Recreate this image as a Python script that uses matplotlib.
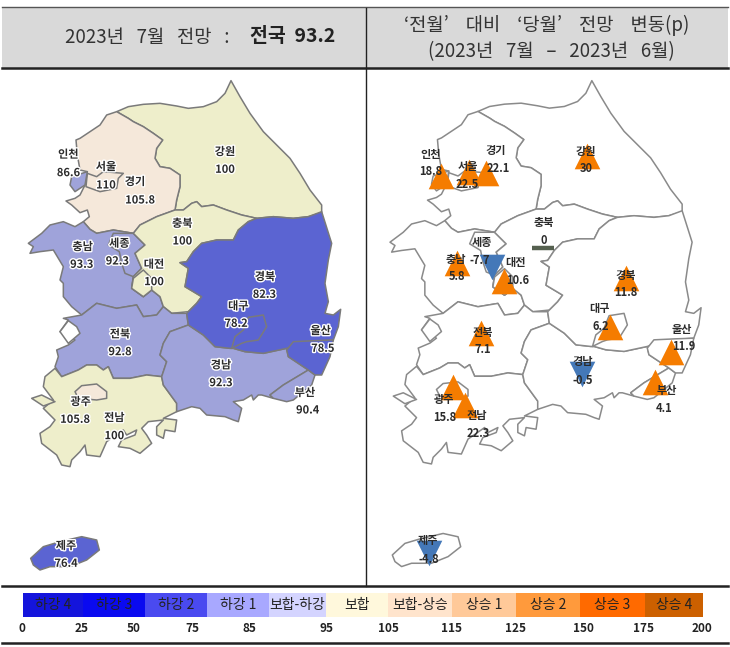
import matplotlib
matplotlib.use('Agg')
import matplotlib.pyplot as plt
import matplotlib.patheffects as pe
from matplotlib.patches import Polygon, Rectangle

plt.rcParams['font.family'] = ['Noto Sans CJK KR', 'DejaVu Sans']

# region outlines (map units = 3 x pixel)
gangwon = [(350,125),(385,110),(430,103),(480,100),(530,108),(565,115),(610,110),(650,95),(675,70),(693,32),(720,80),(750,130),(790,185),(830,225),(870,265),(900,310),(930,360),(965,405),(965,428),(925,440),(880,445),(820,440),(770,445),(725,435),(680,420),(640,405),(605,410),(590,395),(575,400),(550,420),(525,420),(530,390),(540,350),(540,315),(510,295),(480,290),(465,265),(470,235),(488,210),(460,190),(430,170),(400,155),(385,145)]
gyeonggi = [(350,125),(385,145),(400,155),(430,170),(460,190),(488,210),(470,235),(465,265),(480,290),(510,295),(540,315),(540,350),(530,390),(525,420),(470,440),(420,465),(400,490),(340,480),(290,490),(270,478),(250,455),(268,440),(262,420),(240,428),(215,405),(198,393),(225,385),(240,375),(255,345),(262,305),(240,300),(232,255),(228,210),(240,205),(300,165),(320,135)]
seoul = [(262,310),(290,320),(310,305),(370,310),(355,325),(350,355),(300,365),(258,350)]
incheon = [(215,320),(262,305),(255,345),(225,365),(210,345)]
chungbuk = [(525,420),(550,420),(575,400),(590,395),(605,410),(640,405),(680,420),(725,435),(770,445),(745,455),(715,480),(700,510),(650,510),(605,520),(580,545),(560,575),(540,578),(565,595),(555,650),(605,680),(590,700),(565,725),(515,730),(490,710),(480,680),(455,660),(430,680),(395,655),(400,620),(425,595),(405,550),(435,525),(400,490),(420,465),(470,440)]
daejeon = [(395,655),(400,625),(430,600),(455,625),(455,660),(430,680)]
chungnam = [(85,520),(125,490),(150,465),(190,455),(225,470),(250,455),(270,478),(290,490),(340,480),(400,490),(435,525),(405,550),(425,595),(400,620),(395,655),(430,680),(455,660),(480,680),(490,710),(470,735),(430,740),(410,705),(350,715),(290,700),(245,735),(215,710),(190,680),(190,640),(180,630),(190,590),(160,540),(120,545),(90,550),(100,530)]
sejong = [(340,490),(400,490),(435,525),(405,550),(425,595),(400,620),(375,610),(365,580),(358,545),(325,525)]
jeonbuk = [(190,745),(245,735),(290,700),(350,715),(410,705),(430,740),(470,735),(490,710),(515,730),(560,730),(565,765),(510,785),(490,820),(480,855),(500,875),(485,920),(440,915),(390,925),(340,925),(325,890),(310,900),(290,885),(260,885),(235,900),(185,920),(165,890),(175,860),(170,840),(205,825),(225,810),(180,785),(205,750)]
saemangeum = [(180,785),(205,752),(230,770),(240,790),(205,820)]
jeonnam = [(165,895),(185,920),(235,900),(260,885),(290,885),(310,900),(325,890),(340,925),(390,925),(440,915),(485,920),(490,945),(530,1000),(530,1025),(490,1045),(530,1050),(525,1085),(495,1080),(490,1105),(470,1095),(470,1070),(490,1050),(445,1055),(425,1075),(440,1095),(455,1120),(420,1150),(390,1135),(355,1130),(365,1110),(405,1095),(410,1080),(380,1095),(370,1080),(320,1115),(300,1160),(260,1155),(255,1125),(240,1145),(215,1170),(210,1190),(185,1185),(170,1155),(125,1120),(120,1090),(150,1070),(165,1050),(150,1035),(130,1015),(160,990),(130,950),(135,920)]
shinan = [(95,985),(125,975),(165,995),(130,1008)]
gwangju = [(225,965),(245,947),(290,942),(320,965),(320,985),(290,990),(235,985)]
gyeongnam = [(565,765),(610,795),(645,830),(690,835),(700,835),(735,845),(790,850),(860,835),(865,860),(925,900),(900,915),(850,945),(810,975),(820,985),(785,975),(775,975),(760,990),(755,975),(730,990),(700,995),(725,1015),(715,1055),(700,1050),(675,1040),(620,1035),(600,1015),(575,1010),(530,1025),(530,1000),(490,945),(485,920),(500,875),(480,855),(490,820),(510,785)]
busan = [(925,900),(945,915),(935,945),(880,990),(860,995),(820,985),(810,975),(850,945),(900,915)]
ulsan = [(860,840),(880,815),(945,812),(1000,810),(990,860),(965,915),(945,915),(925,900),(865,860)]
gyeongbuk = [(770,445),(820,440),(880,445),(925,440),(965,425),(995,520),(985,570),(975,640),(985,695),(975,730),(1000,735),(1022,718),(1015,770),(1000,810),(930,815),(875,830),(860,835),(790,850),(735,845),(700,835),(690,835),(645,830),(610,795),(565,765),(560,730),(565,725),(590,700),(605,680),(555,650),(565,595),(540,578),(560,575),(580,545),(605,520),(650,510),(700,510),(715,480),(745,455)]
daegu = [(695,835),(705,800),(730,780),(745,742),(790,735),(800,770),(775,810),(740,815),(725,820)]
jeju = [(92,1465),(130,1430),(180,1415),(245,1400),(290,1410),(298,1440),(260,1470),(210,1490),(150,1490),(120,1500),(100,1485)]

yellow = '#EEEECB'
peach = '#F5E8DA'
light = '#9FA3DA'
dark = '#5B64D2'

regions = [gangwon, gyeonggi, seoul, incheon, chungnam, sejong, chungbuk, daejeon, jeonbuk, saemangeum,
           jeonnam, shinan, gwangju, gyeongnam, busan, gyeongbuk, daegu, ulsan, jeju]
region_colors = [yellow, peach, peach, light, light, light, yellow, yellow, light, 'white',
                 yellow, yellow, peach, light, light, dark, dark, dark, dark]

# left map labels: name, value
names = ['강원','인천','서울','경기','충북','충남','세종','대전','경북','대구','울산','전북','경남','부산','광주','전남','제주']
values = ['100','86.6','110','105.8','100','93.3','92.3','100','82.3','78.2','78.5','92.8','92.3','90.4','105.8','100','76.4']
name_pos = [(675,245),(205,253),(318,290),(405,335),(547,460),(248,530),(358,520),(462,583),(795,620),(715,708),(962,782),(360,792),(663,885),(915,968),(242,995),(343,1043),(198,1427)]
value_pos = [(675,298),(205,308),(318,345),(420,390),(547,513),(245,583),(352,573),(462,635),(793,673),(708,760),(968,835),(360,845),(663,938),(923,1020),(225,1048),(343,1097),(198,1480)]

# right map labels and changes
names_r = ['강원','인천','서울','경기','충북','충남','세종','대전','경북','대구','울산','전북','경남','부산','광주','전남','제주']
changes = [30, 18.8, 22.5, 22.1, 0, 5.8, -7.7, 10.6, 11.8, 6.2, 11.9, 7.1, -0.5, 4.1, 15.8, 22.3, -4.8]
name_pos_r = [(663,245),(197,253),(310,290),(393,242),(535,458),(272,568),(350,517),(450,578),(783,615),(703,715),(950,778),(352,787),(652,875),(905,962),(238,990),(335,1038),(190,1412)]
value_pos_r = [(663,297),(197,305),(308,342),(400,295),(535,510),(275,620),(345,572),(458,630),(783,668),(708,770),(955,830),(352,838),(652,933),(898,1015),(238,1042),(340,1090),(190,1468)]
marker_pos = [(665,258),(227,318),(312,305),(362,310),(535,533),(275,580),(382,590),(418,632),(783,625),(735,770),(918,845),(347,790),(652,912),(870,935),(265,950),(300,1005),(192,1450)]

# legend
legend_labels = ['하강 4','하강 3','하강 2','하강 1','보합-하강','보합','보합-상승','상승 1','상승 2','상승 3','상승 4']
legend_colors = ['#1414DC','#0A0AF0','#4A4AF0','#A8A8FF','#D4D4FF','#FFF8DC','#FFE4CC','#FFC999','#FF9A3C','#FF6A00','#CC6000']
legend_edges = [23,83,145,207,269,326,388,452,516,580,645,703]
tick_labels = ['0','25','50','75','85','95','105','115','125','150','175','200']
tick_pos = [22,82,134,192,249,326,388,452,516,583,643,702]

W, H = 730, 647
fig = plt.figure(figsize=(W / 100, H / 100), dpi=100)

# page axes in pixels for header, rules and legend
page = fig.add_axes([0, 0, 1, 1])
page.set_xlim(0, W)
page.set_ylim(H, 0)
page.axis('off')

page.add_patch(Rectangle((2, 8), 726, 60, fc='#D9D9D9', ec='none'))
page.plot([2, 728], [7, 7], c='#555555', lw=1)
page.plot([2, 728], [68, 68], c='#222222', lw=1.8)
page.plot([2, 728], [586, 586], c='#222222', lw=1.8)
page.plot([2, 728], [643, 643], c='#222222', lw=1.8)
page.plot([366, 366], [8, 586], c='#222222', lw=1)

page.text(65, 37, '2023년   7월   전망   :', fontsize=13.5, color='#333333', va='center', ha='left')
page.text(250, 37, '전국  93.2', fontsize=14, color='#222222', va='center', ha='left', fontweight='bold')
page.text(547, 25, '‘전월’    대비    ‘당월’    전망    변동(p)', fontsize=13.5, color='#333333', va='center', ha='center')
page.text(551, 52, '(2023년   7월   –   2023년   6월)', fontsize=13.5, color='#333333', va='center', ha='center')

for i, label in enumerate(legend_labels):
    x0, x1 = legend_edges[i], legend_edges[i + 1]
    page.add_patch(Rectangle((x0, 593), x1 - x0, 24, fc=legend_colors[i], ec='none'))
    page.text((x0 + x1) / 2, 605, label, fontsize=10, color='#222222', ha='center', va='center')
for x, label in zip(tick_pos, tick_labels):
    page.text(x, 628, label, fontsize=8.5, color='#222222', ha='center', va='center', fontweight='bold')


def draw_map(ax, colors, edge, sx=1.0, sy=1.0, dx=0.0, dy=0.0):
    for pts, color in zip(regions, colors):
        xy = [(x * sx + dx, y * sy + dy) for x, y in pts]
        ax.add_patch(Polygon(xy, closed=True, fc=color, ec=edge, lw=1.1, joinstyle='round'))


def label(ax, pos, text, halo):
    effects = [pe.withStroke(linewidth=2, foreground=halo)] if halo else None
    ax.text(pos[0], pos[1], text, fontsize=8, color='#2B2B2B', fontweight='bold',
            ha='center', va='center', path_effects=effects, zorder=5)


# left map
ax_l = fig.add_axes([0, (H - 590) / H, 365 / W, 520 / H])
ax_l.set_xlim(0, 1095)
ax_l.set_ylim(1560, 0)
ax_l.axis('off')
draw_map(ax_l, region_colors, '#7A7A7A')
for i in range(len(names)):
    label(ax_l, name_pos[i], names[i], 'white')
    label(ax_l, value_pos[i], values[i], 'white')

# right map, same outlines slightly smaller and shifted
ax_r = fig.add_axes([365 / W, (H - 590) / H, 365 / W, 520 / H])
ax_r.set_xlim(0, 1095)
ax_r.set_ylim(1560, 0)
ax_r.axis('off')
draw_map(ax_r, ['white'] * len(regions), '#8A8A8A', sx=0.996, sy=0.993, dx=-9.7, dy=0.2)
for i, change in enumerate(changes):
    x, y = marker_pos[i]
    if change > 0:
        ax_r.scatter([x], [y], marker='^', s=340, c='#F57C00', linewidths=0, zorder=3)
    elif change < 0:
        ax_r.scatter([x], [y], marker='v', s=340, c='#4478B8', linewidths=0, zorder=3)
    else:
        ax_r.plot([x], [y], marker='_', ms=16, mew=3.2, c='#55604F', zorder=3)
    label(ax_r, name_pos_r[i], names_r[i], None)
    label(ax_r, value_pos_r[i], str(change), None)

fig.savefig('out.png', dpi=100)
